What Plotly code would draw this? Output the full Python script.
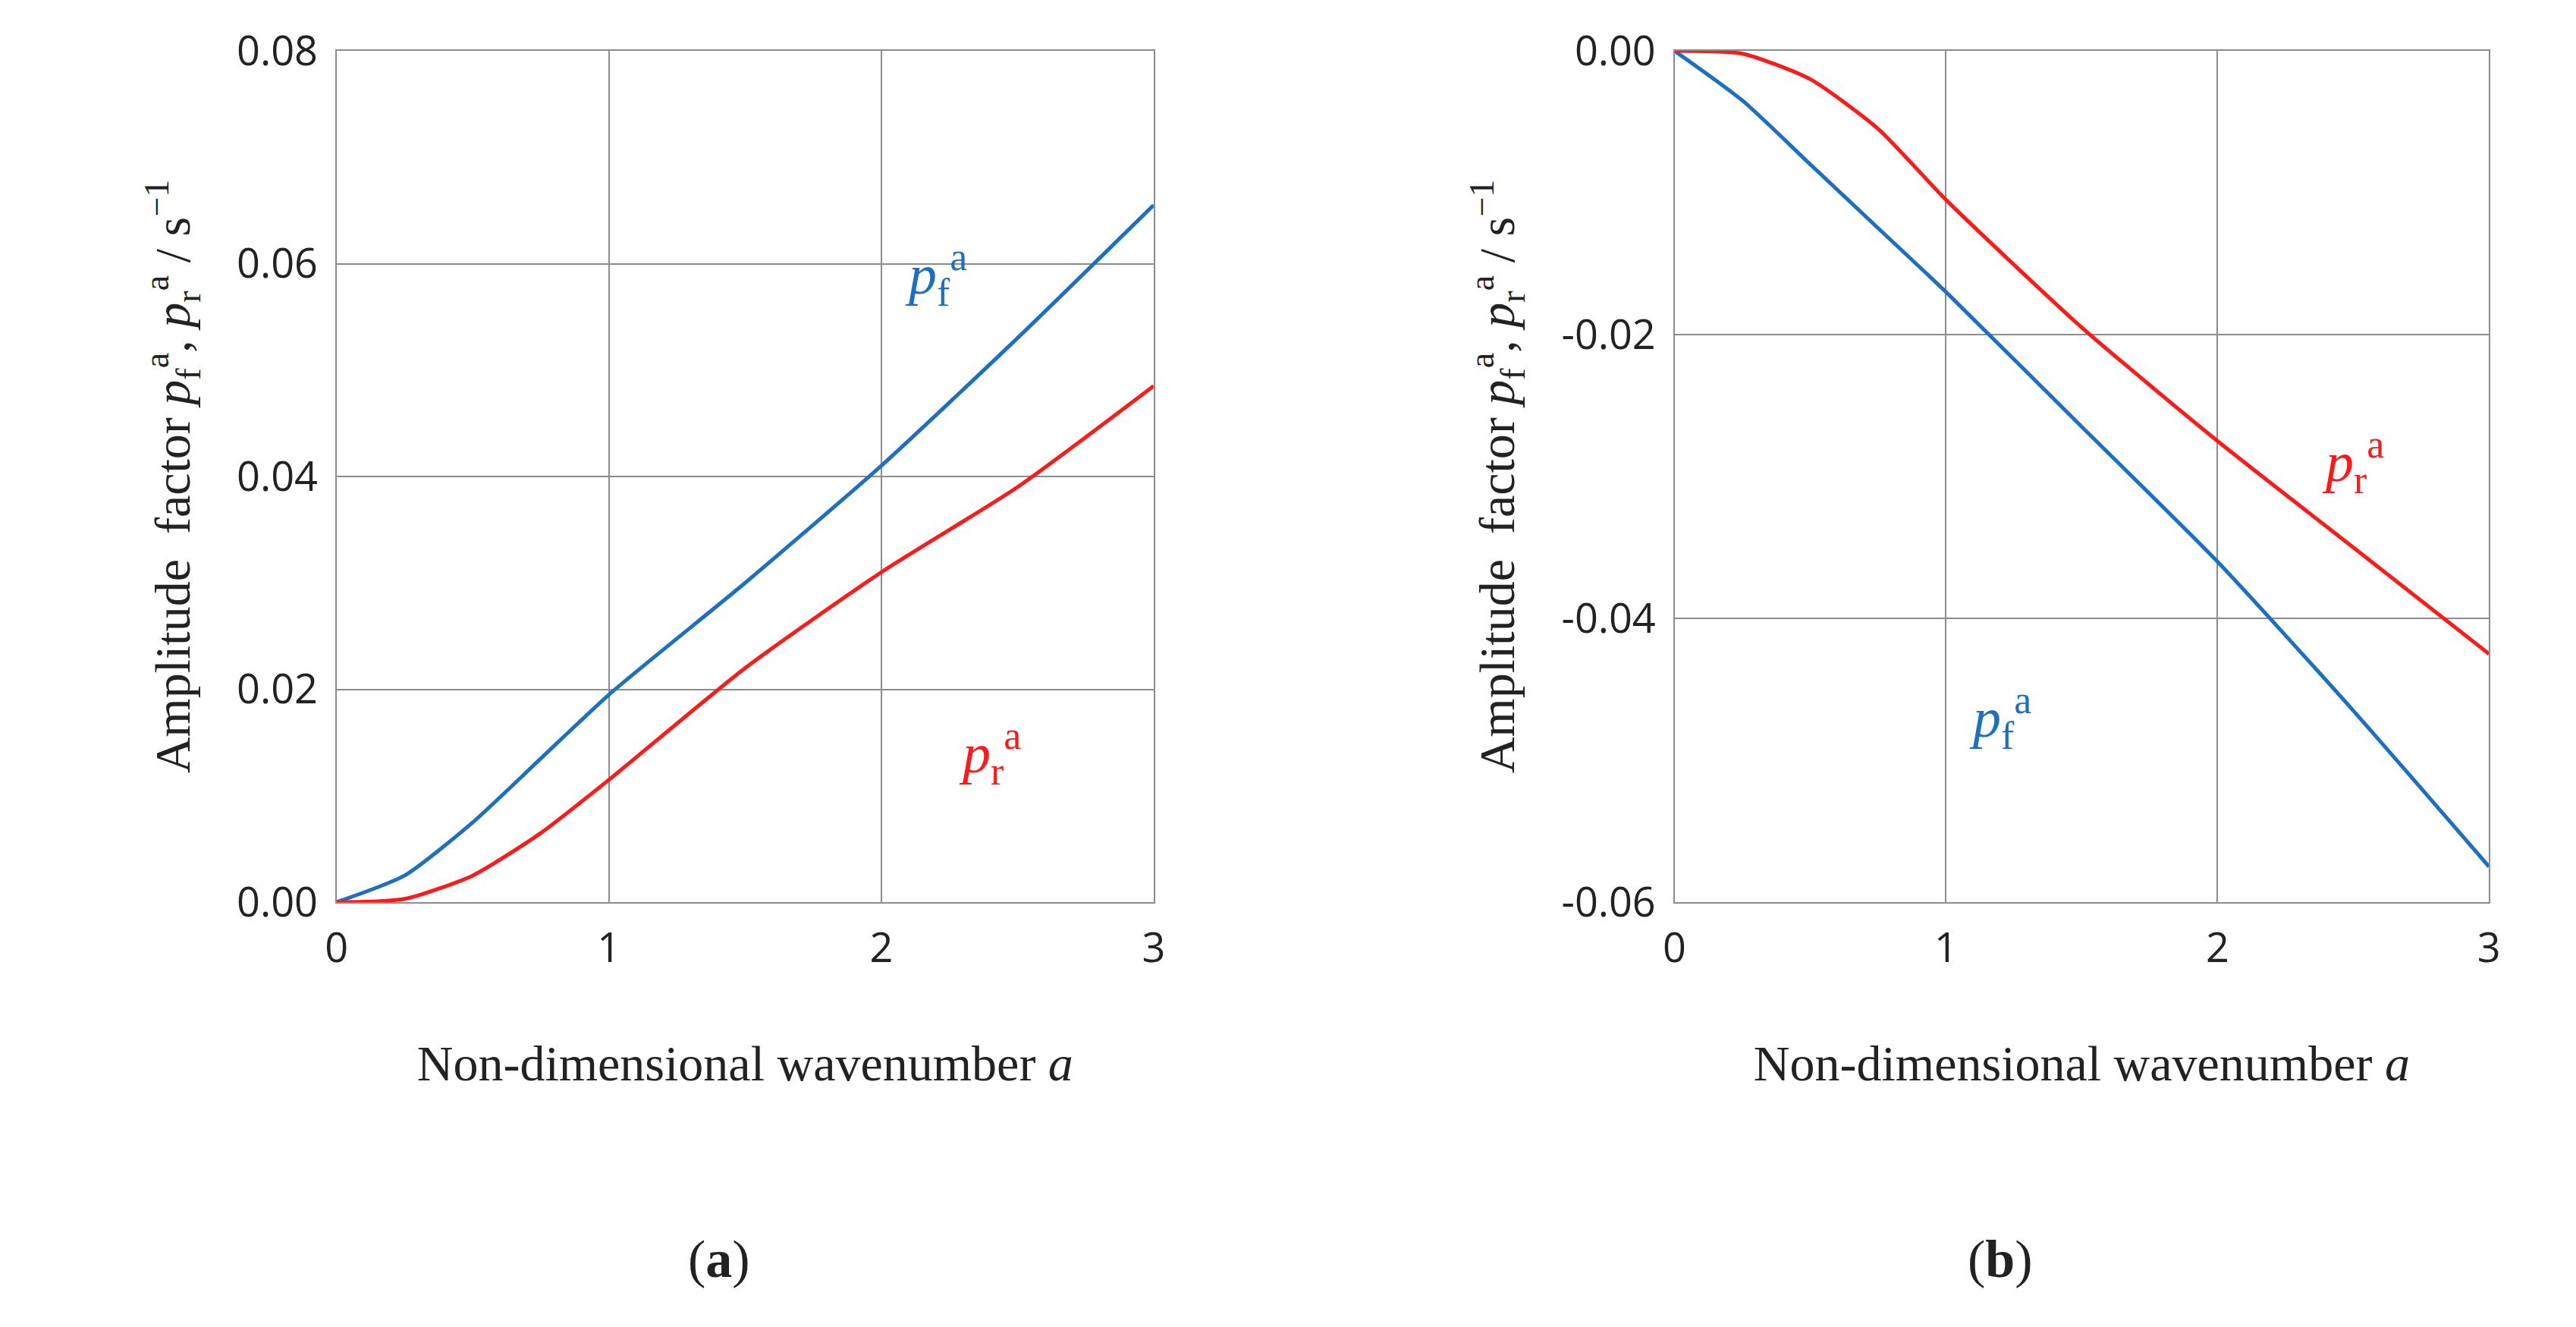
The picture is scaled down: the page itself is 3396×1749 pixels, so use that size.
import plotly.graph_objects as go

a = [0, 0.25, 0.5, 0.75, 1.0, 1.5, 2.0, 2.5, 3.0]
pf_a = [0, 0.0025, 0.0075, 0.0135, 0.0195, 0.0300, 0.0410, 0.0530, 0.0655]
pr_a = [0, 0.0003, 0.0025, 0.0065, 0.0115, 0.0220, 0.0310, 0.0390, 0.0485]
pf_b = [0, -0.0035, -0.0080, -0.0125, -0.0170, -0.0265, -0.0360, -0.0465, -0.0575]
pr_b = [0, -0.0002, -0.0020, -0.0055, -0.0105, -0.0195, -0.0275, -0.0350, -0.0425]

xticks = [0, 1, 2, 3]
yticks_a = [0, 0.02, 0.04, 0.06, 0.08]
yticks_b = [-0.06, -0.04, -0.02, 0]
ylabels_a = ["0.00", "0.02", "0.04", "0.06", "0.08"]
ylabels_b = ["-0.06", "-0.04", "-0.02", "0.00"]

BLUE = "#1f6fc0"
RED = "#ff1a1a"
serif = "Liberation Serif"
sans = "Open Sans"
GRID = "#8c8c8c"

fig = go.Figure()
for xa, ya, pf, pr in [("x", "y", pf_a, pr_a), ("x2", "y2", pf_b, pr_b)]:
    fig.add_trace(go.Scatter(x=a, y=pf, xaxis=xa, yaxis=ya, mode="lines",
                             line=dict(color=BLUE, width=5, shape="spline", smoothing=0.6)))
    fig.add_trace(go.Scatter(x=a, y=pr, xaxis=xa, yaxis=ya, mode="lines",
                             line=dict(color=RED, width=5, shape="spline", smoothing=0.6)))

ytitle = "Amplitude  factor <i>p</i><sub>f</sub><sup>a</sup>, <i>p</i><sub>r</sub><sup>a</sup> / s<sup>−1</sup>"
xtitle = "Non-dimensional wavenumber <i>a</i>"
ax = dict(showgrid=True, gridcolor=GRID, gridwidth=2, showline=True, linecolor=GRID, linewidth=2,
          mirror=True, zeroline=False, ticks="outside", ticklen=12, tickcolor="white",
          tickfont=dict(family=sans, size=54, color="#222"))

fig.update_layout(
    xaxis=dict(ax, domain=[0.125, 0.445], range=[0, 3], tickvals=xticks, anchor="y",
               title=dict(text=xtitle, font=dict(family=serif, size=66, color="#222"), standoff=95)),
    yaxis=dict(ax, domain=[0, 1], range=[0, 0.08], tickvals=yticks_a, ticktext=ylabels_a, anchor="x",
               title=dict(text=ytitle, font=dict(family=serif, size=66, color="#222"), standoff=40)),
    xaxis2=dict(ax, domain=[0.649, 0.968], range=[0, 3], tickvals=xticks, anchor="y2",
                title=dict(text=xtitle, font=dict(family=serif, size=66, color="#222"), standoff=95)),
    yaxis2=dict(ax, domain=[0, 1], range=[-0.06, 0], tickvals=yticks_b, ticktext=ylabels_b, anchor="x2",
                title=dict(text=ytitle, font=dict(family=serif, size=66, color="#222"), standoff=40)),
)

labs = [("x", "y", 2.2, 0.059, "<i>p</i><sub>f</sub><sup>a</sup>", BLUE),
        ("x", "y", 2.4, 0.014, "<i>p</i><sub>r</sub><sup>a</sup>", RED),
        ("x2", "y2", 1.2, -0.047, "<i>p</i><sub>f</sub><sup>a</sup>", BLUE),
        ("x2", "y2", 2.5, -0.029, "<i>p</i><sub>r</sub><sup>a</sup>", RED)]
for xr, yr, x, y, t, c in labs:
    fig.add_annotation(xref=xr, yref=yr, x=x, y=y, text=t, showarrow=False,
                       font=dict(family=serif, size=74, color=c))

for x, t in [(0.262, "(<b>a</b>)"), (0.79, "(<b>b</b>)")]:
    fig.add_annotation(xref="paper", yref="paper", x=x, y=-0.455, text=t, showarrow=False,
                       font=dict(family=serif, size=70, color="#222"))

fig.update_layout(width=3396, height=1749, showlegend=False, plot_bgcolor="white", paper_bgcolor="white",
                  margin=dict(l=0, r=0, t=59, b=568))
fig.write_html("out.html")
